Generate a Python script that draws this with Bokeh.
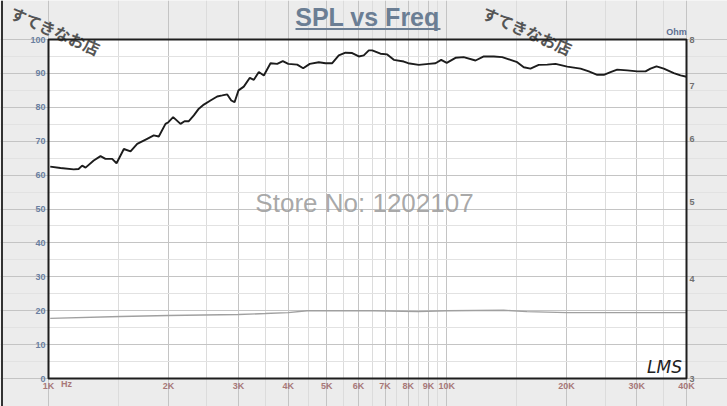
from math import log10
from bokeh.plotting import figure
from bokeh.models import FixedTicker, LogAxis, Range1d, LogScale, Label, Span
from bokeh.embed import file_html
from bokeh.resources import INLINE

# ---- data ----
spl_freq = [1010, 1072, 1157, 1190, 1215, 1239, 1299, 1351, 1390, 1445, 1482, 1546, 1607, 1670,
            1769, 1838, 1892, 1967, 2000, 2056, 2145, 2196, 2251, 2317, 2385, 2455, 2551, 2652,
            2731, 2811, 2877, 2932, 3000, 3093, 3203, 3278, 3374, 3473, 3610, 3752, 3876, 4000,
            4212, 4361, 4530, 4772, 4962, 5158, 5357, 5569, 5789, 6015, 6190, 6373, 6499, 6818,
            7088, 7364, 7802, 8000, 8507, 9013, 9371, 9685, 10000, 10520, 11030, 11810, 12390,
            13130, 13780, 14460, 15030, 15610, 16230, 17020, 17880, 18760, 20070, 21680, 22740,
            23870, 24800, 25780, 26790, 28390, 30080, 31560, 32480, 33630, 35080, 37170, 38640,
            40000]
spl_db = [62.5, 62.1, 61.7, 61.8, 62.8, 62.2, 64.3, 65.6, 64.8, 64.8, 63.5, 67.7, 67.0, 69.2,
          70.7, 71.7, 71.4, 75.1, 75.6, 77.1, 75.1, 75.9, 75.9, 77.6, 79.6, 80.8, 82.0, 83.2,
          83.5, 83.8, 82.0, 81.5, 85.0, 86.1, 88.7, 88.1, 90.4, 89.4, 93.0, 92.8, 93.6, 92.8,
          92.6, 91.5, 92.8, 93.3, 93.0, 93.0, 95.3, 96.1, 96.0, 95.0, 95.3, 96.8, 96.8, 95.8,
          95.6, 94.0, 93.5, 93.0, 92.5, 92.8, 93.0, 94.0, 93.1, 94.6, 94.8, 93.8, 95.0,
          95.0, 94.8, 94.0, 93.3, 91.8, 91.4, 92.5, 92.6, 92.8, 92.0, 91.4, 90.6,
          89.6, 89.6, 90.4, 91.1, 90.9, 90.6, 90.6, 91.4, 92.1, 91.4, 90.1, 89.4,
          89.0]

imp_freq = [1010, 1516, 2000, 3000, 3500, 4000, 4460, 6550, 8450, 10000, 13900, 15900, 20000, 30000, 40000]
imp_ohm = [3.57, 3.59, 3.60, 3.61, 3.62, 3.63, 3.65, 3.65, 3.64, 3.65, 3.655, 3.64, 3.63, 3.63, 3.63]

x_major = [1000, 2000, 3000, 4000, 5000, 6000, 7000, 8000, 9000, 10000, 20000, 30000, 40000]
x_minor = [1500, 2500, 3500, 4500, 5500, 6500, 7500, 8500, 9500, 15000, 25000, 35000]
x_labels = ["1K", "2K", "3K", "4K", "5K", "6K", "7K", "8K", "9K", "10K", "20K", "30K", "40K"]
y_major = [0, 10, 20, 30, 40, 50, 60, 70, 80, 90, 100]
y_minor = [5, 15, 25, 35, 45, 55, 65, 75, 85, 95]
ohm_ticks = [3, 4, 5, 6, 7, 8]

title_text = "SPL vs Freq"
watermark_text = "Store No: 1202107"
stamp_text = "すてきなお店"

# ---- layout (pixels) ----
W, H = 727, 406
FL, FR, FT, FB = 48, 686, 39, 378   # visible plot box
FONT = "Liberation Sans"

x0, x1 = x_major[0], x_major[-1]
y0, y1 = y_major[0], y_major[-1]
o0, o1 = ohm_ticks[0], ohm_ticks[-1]
ppd_x = (FR - FL) / log10(x1 / x0)
ppu_y = (FB - FT) / (y1 - y0)
ppd_o = (FB - FT) / log10(o1 / o0)

x_start = 10 ** (log10(x0) - FL / ppd_x)
x_end = 10 ** (log10(x1) + (W - FR) / ppd_x)
y_start = y0 - (H - FB) / ppu_y
y_end = y1 + FT / ppu_y
o_start = 10 ** (log10(o0) - (H - FB) / ppd_o)
o_end = 10 ** (log10(o1) + FT / ppd_o)


def fx(px):
    return 10 ** (log10(x0) + (px - FL) / ppd_x)


def fy(py):
    return y1 - (py - FT) / ppu_y


p = figure(width=W, height=H, x_axis_type="log", x_range=Range1d(x_start, x_end),
           y_range=Range1d(y_start, y_end), output_backend="svg", toolbar_location=None,
           title=None, min_border=0, min_border_left=0, min_border_right=0,
           min_border_top=0, min_border_bottom=0)
p.background_fill_color = "#ececec"
p.border_fill_color = "#ececec"
p.outline_line_color = None

# white plot box
p.quad(left=[x0], right=[x1], bottom=[y0], top=[y1], fill_color="white", line_color=None,
       level="image")

# grids
p.xgrid.ticker = FixedTicker(ticks=x_major, minor_ticks=x_minor)
p.xgrid.grid_line_color = "#c4c4c4"
p.xgrid.minor_grid_line_color = "#dcdcdc"
p.xgrid.bounds = (y0, y1)
p.ygrid.ticker = FixedTicker(ticks=y_major, minor_ticks=y_minor)
p.ygrid.grid_line_color = "#c4c4c4"
p.ygrid.minor_grid_line_color = "#e2e2e2"
p.ygrid.bounds = (x0, x1)


def style_axis(ax, color, standoff):
    ax.axis_line_color = None
    ax.major_tick_line_color = None
    ax.minor_tick_line_color = None
    ax.major_tick_out = 0
    ax.major_tick_in = 0
    ax.minor_tick_out = 0
    ax.minor_tick_in = 0
    ax.major_label_text_font = FONT
    ax.major_label_text_font_size = "9px"
    ax.major_label_text_font_style = "bold"
    ax.major_label_text_color = color
    ax.major_label_standoff = standoff


xa = p.xaxis[0]
ya = p.yaxis[0]
style_axis(xa, "#a87878", 2)
style_axis(ya, "#6a7fa0", 3)

xa.fixed_location = y0
xa.ticker = FixedTicker(ticks=x_major)
xa.major_label_overrides = {f: l for f, l in zip(x_major, x_labels)}

ya.fixed_location = x0
ya.ticker = FixedTicker(ticks=y_major)

p.extra_y_ranges = {"ohm": Range1d(o_start, o_end)}
p.extra_y_scales = {"ohm": LogScale()}
rax = LogAxis(y_range_name="ohm", ticker=FixedTicker(ticks=ohm_ticks), fixed_location=x1)
rax.major_label_overrides = {t: str(t) for t in ohm_ticks}
style_axis(rax, "#707070", 3)
p.add_layout(rax, "right")

# data lines
p.line(imp_freq, imp_ohm, y_range_name="ohm", line_color="#a0a0a0", line_width=1.4)
p.line(spl_freq, spl_db, line_color="#1c1c1c", line_width=1.9)

# plot box border on top
p.quad(left=[x0], right=[x1], bottom=[y0], top=[y1], fill_color=None, line_color="#1e1e1e",
       line_width=2, level="overlay")

# left page edge line
p.add_layout(Span(location=fx(1.5), dimension="height", line_color="#333333", line_width=2))

# watermark
p.add_layout(Label(x=fx(364), y=fy(202.5), text=watermark_text, text_align="center",
                   text_baseline="middle", text_font=FONT, text_font_size="26px",
                   text_color="#9a9a9a", text_alpha=0.85))

# LMS logo
p.add_layout(Label(x=fx(664), y=fy(366), text="LMS", text_align="center",
                   text_baseline="middle", text_font="DejaVu Sans",
                   text_font_style="italic", text_font_size="17px", text_color="#222222"))

# title with underline
p.add_layout(Label(x=fx(367), y=fy(16.5), text=title_text, text_align="center",
                   text_baseline="middle", text_font=FONT, text_font_style="bold",
                   text_font_size="25px", text_color="#6b7e94"))
p.segment(x0=[fx(295)], y0=[fy(28.5)], x1=[fx(440)], y1=[fy(28.5)], line_color="#6b7e94",
          line_width=2, level="overlay")

# unit labels
p.add_layout(Label(x=fx(676), y=fy(31), text="Ohm", text_align="center",
                   text_baseline="middle", text_font=FONT, text_font_size="9px",
                   text_font_style="bold", text_color="#5c6f92"))
p.add_layout(Label(x=fx(66), y=fy(383), text="Hz", text_align="center", text_baseline="middle",
                   text_font=FONT, text_font_size="9px", text_font_style="bold",
                   text_color="#a87878"))

# stamp watermarks
for cx in [55, 527]:
    p.add_layout(Label(x=fx(cx), y=fy(30), text=stamp_text, text_align="center",
                       text_baseline="middle", angle=-0.41, text_font="Noto Sans CJK JP",
                       text_font_style="bold", text_font_size="16px", text_color="#555555"))

html = file_html(p, INLINE)
html = html.replace("<body>", '<body style="background:#ececec;">', 1)
open("out.html", "w").write(html)
